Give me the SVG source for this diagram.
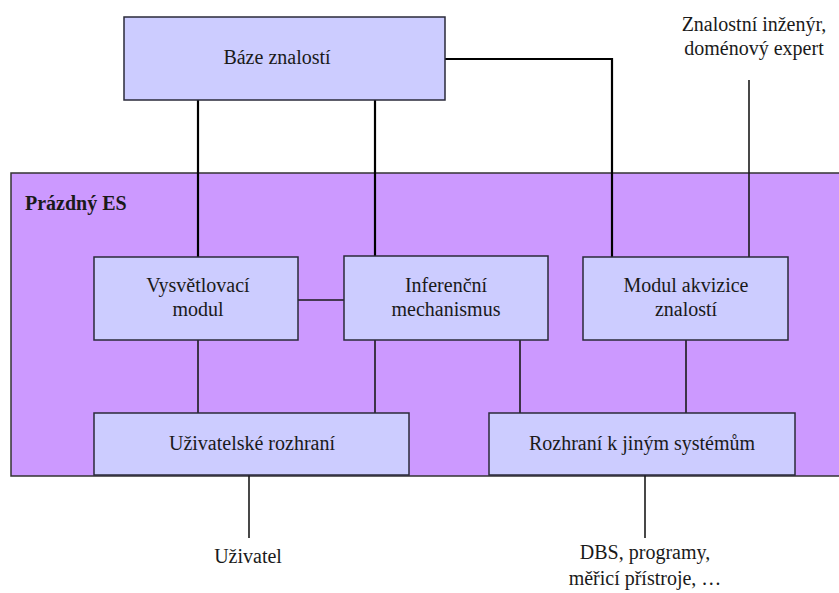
<svg xmlns="http://www.w3.org/2000/svg" width="839" height="593" viewBox="0 0 839 593">
  <style>
    .box { fill: #ccccff; stroke: #2a2a3a; stroke-width: 1.5; }
    .shell { fill: #cc99ff; stroke: #333333; stroke-width: 1.5; }
    .link { fill: none; stroke: #000000; stroke-width: 2.2; }
    .thin { fill: none; stroke: #1a1a1a; stroke-width: 1.6; }
  </style>

  <!-- Empty expert system shell -->
  <g id="shell">
    <rect class="shell" x="11" y="173" width="840" height="303"/>
  </g>

  <!-- Connectors -->
  <g id="connectors">
    <line class="link" x1="198" y1="100" x2="198" y2="257"/>
    <line class="link" x1="375" y1="100" x2="375" y2="256"/>
    <polyline class="link" points="445,59 612,59 612,257"/>
    <line class="thin" x1="749" y1="80" x2="749" y2="257"/>
    <line class="thin" x1="298" y1="300" x2="344" y2="300"/>
    <line class="thin" x1="198" y1="340" x2="198" y2="413"/>
    <line class="thin" x1="375" y1="340" x2="375" y2="413"/>
    <line class="thin" x1="520" y1="340" x2="520" y2="413"/>
    <line class="thin" x1="686" y1="340" x2="686" y2="413"/>
    <line class="thin" x1="249" y1="475" x2="249" y2="538"/>
    <line class="thin" x1="645" y1="475" x2="645" y2="538"/>
  </g>

  <g id="baze-znalosti">
    <rect class="box" x="124" y="17" width="321" height="83"/>
  </g>
  <g id="vysvetlovaci-modul">
    <rect class="box" x="94" y="257" width="204" height="83"/>
  </g>
  <g id="inferencni-mechanismus">
    <rect class="box" x="344" y="256" width="204" height="84"/>
  </g>
  <g id="modul-akvizice">
    <rect class="box" x="583" y="257" width="205" height="83"/>
  </g>
  <g id="uzivatelske-rozhrani">
    <rect class="box" x="94" y="413" width="315" height="62"/>
  </g>
  <g id="rozhrani-systemy">
    <rect class="box" x="489" y="413" width="306" height="62"/>
  </g>

  <!-- Labels -->
  <text x="25" y="210" style="font-family:'Liberation Serif',serif;font-size:20px;font-weight:bold;fill:#1a1a1a">Prázdný ES</text>
  <text x="277" y="64" style="font-family:'Liberation Serif',serif;font-size:20px;fill:#1a1a1a;text-anchor:middle">Báze znalostí</text>
  <text x="198" y="292" style="font-family:'Liberation Serif',serif;font-size:20px;fill:#1a1a1a;text-anchor:middle">Vysvětlovací</text>
  <text x="198" y="316" style="font-family:'Liberation Serif',serif;font-size:20px;fill:#1a1a1a;text-anchor:middle">modul</text>
  <text x="446" y="292" style="font-family:'Liberation Serif',serif;font-size:20px;fill:#1a1a1a;text-anchor:middle">Inferenční</text>
  <text x="446" y="316" style="font-family:'Liberation Serif',serif;font-size:20px;fill:#1a1a1a;text-anchor:middle">mechanismus</text>
  <text x="686" y="292" style="font-family:'Liberation Serif',serif;font-size:20px;fill:#1a1a1a;text-anchor:middle">Modul akvizice</text>
  <text x="686" y="316" style="font-family:'Liberation Serif',serif;font-size:20px;fill:#1a1a1a;text-anchor:middle">znalostí</text>
  <text x="252" y="450" style="font-family:'Liberation Serif',serif;font-size:20px;fill:#1a1a1a;text-anchor:middle">Uživatelské rozhraní</text>
  <text x="642" y="450" style="font-family:'Liberation Serif',serif;font-size:20px;fill:#1a1a1a;text-anchor:middle">Rozhraní k jiným systémům</text>
  <text x="754" y="31" style="font-family:'Liberation Serif',serif;font-size:20px;fill:#1a1a1a;text-anchor:middle">Znalostní inženýr,</text>
  <text x="754" y="55" style="font-family:'Liberation Serif',serif;font-size:20px;fill:#1a1a1a;text-anchor:middle">doménový expert</text>
  <text x="248" y="563" style="font-family:'Liberation Serif',serif;font-size:20px;fill:#1a1a1a;text-anchor:middle">Uživatel</text>
  <text x="645" y="559" style="font-family:'Liberation Serif',serif;font-size:20px;fill:#1a1a1a;text-anchor:middle">DBS, programy,</text>
  <text x="645" y="585" style="font-family:'Liberation Serif',serif;font-size:20px;fill:#1a1a1a;text-anchor:middle">měřicí přístroje, …</text>
</svg>
